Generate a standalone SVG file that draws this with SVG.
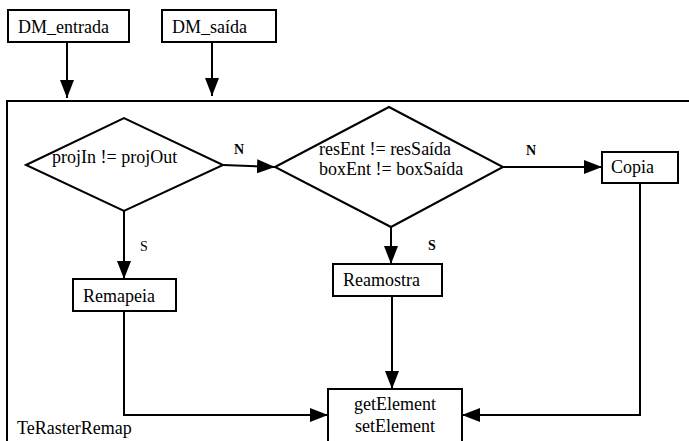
<svg xmlns="http://www.w3.org/2000/svg" width="689" height="441" viewBox="0 0 689 441">
<style>
.box{fill:#fff;stroke:#000;stroke-width:2}
.frame{fill:none;stroke:#000;stroke-width:2}
.c{fill:none;stroke:#000;stroke-width:2}
</style>
<defs>
<marker id="ah" markerUnits="userSpaceOnUse" markerWidth="18" markerHeight="14" refX="18" refY="7" orient="auto">
<path d="M0,0 L18,7 L0,14 z" fill="#000"/>
</marker>
</defs>
<rect width="689" height="441" fill="#fff"/>
<g id="frame">
<path class="frame" d="M7,445 V101 H692"/>
<text x="17" y="434" font-family="Liberation Serif" font-size="18" fill="#000">TeRasterRemap</text>
</g>
<g id="dm_entrada">
<rect class="box" x="8" y="10" width="121" height="32"/>
<text x="18" y="33" font-family="Liberation Serif" font-size="18" fill="#000">DM_entrada</text>
</g>
<g id="dm_saida">
<rect class="box" x="162" y="10" width="114" height="32"/>
<text x="172" y="33" font-family="Liberation Serif" font-size="18" fill="#000">DM_saída</text>
</g>
<g id="decisao1">
<polygon class="box" points="26,165 124,118 223,165 124,211"/>
<text x="52" y="163" font-family="Liberation Serif" font-size="18" fill="#000">projIn != projOut</text>
</g>
<g id="decisao2">
<polygon class="box" points="275,167 389,107 503,167 391,227"/>
<text x="319" y="155" font-family="Liberation Serif" font-size="18" fill="#000">resEnt != resSaída</text>
<text x="319" y="175" font-family="Liberation Serif" font-size="18" fill="#000">boxEnt != boxSaída</text>
</g>
<g id="copia">
<rect class="box" x="602" y="152" width="76" height="31"/>
<text x="611" y="173" font-family="Liberation Serif" font-size="18" fill="#000">Copia</text>
</g>
<g id="remapeia">
<rect class="box" x="73" y="279" width="103" height="32"/>
<text x="83" y="302" font-family="Liberation Serif" font-size="18" fill="#000">Remapeia</text>
</g>
<g id="reamostra">
<rect class="box" x="333" y="264" width="109" height="32"/>
<text x="343" y="286" font-family="Liberation Serif" font-size="18" fill="#000">Reamostra</text>
</g>
<g id="getset">
<rect class="box" x="328" y="389" width="134" height="60"/>
<text x="395" y="410" text-anchor="middle" font-family="Liberation Serif" font-size="18" fill="#000">getElement</text>
<text x="395" y="432" text-anchor="middle" font-family="Liberation Serif" font-size="18" fill="#000">setElement</text>
</g>
<g id="connectors">
<path class="c" d="M67,42 V98" marker-end="url(#ah)"/>
<path class="c" d="M212,42 V96" marker-end="url(#ah)"/>
<path class="c" d="M223,165 L275,167" marker-end="url(#ah)"/>
<path class="c" d="M124,211 V279" marker-end="url(#ah)"/>
<path class="c" d="M503,167 H602" marker-end="url(#ah)"/>
<path class="c" d="M391,227 V264" marker-end="url(#ah)"/>
<path class="c" d="M124,311 V415 H328" marker-end="url(#ah)"/>
<path class="c" d="M392,296 V389" marker-end="url(#ah)"/>
<path class="c" d="M640,183 V415 H462" marker-end="url(#ah)"/>
<text x="234" y="154" font-family="Liberation Serif" font-size="14" font-weight="bold" fill="#000">N</text>
<text x="140" y="251" font-family="Liberation Serif" font-size="14" fill="#000">S</text>
<text x="526" y="155" font-family="Liberation Serif" font-size="14" font-weight="bold" fill="#000">N</text>
<text x="428" y="250" font-family="Liberation Serif" font-size="14" font-weight="bold" fill="#000">S</text>
</g>
</svg>
